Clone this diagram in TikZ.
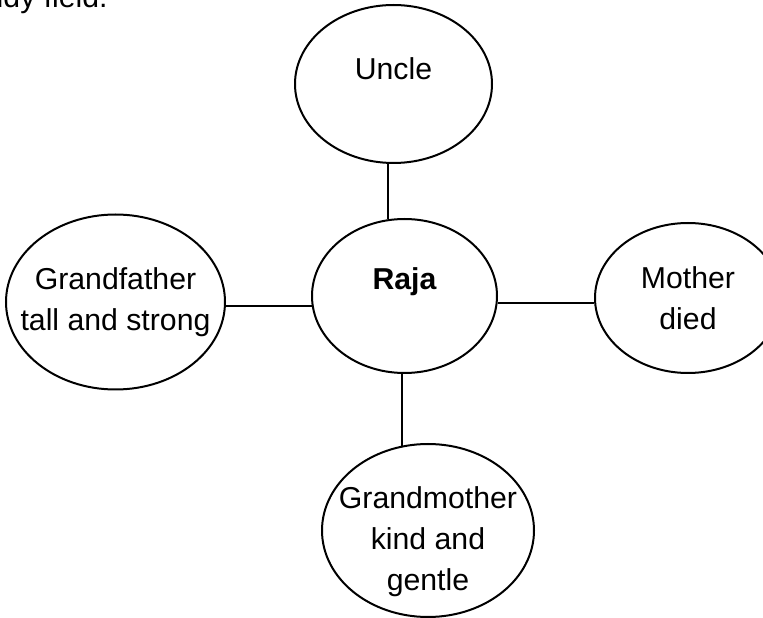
\documentclass[tikz,border=0pt]{standalone}
\usepackage{fontspec}
\setmainfont{Liberation Sans}
\usetikzlibrary{shapes.geometric, positioning}
\tikzset{
  bubble/.style={
    ellipse, draw=black, line width=0.04cm, inner sep=-0.6cm,
    align=center, font=\fontsize{17.2}{23.3}\selectfont
  },
  link/.style={line width=0.04cm, draw=black},
}

\begin{document}
\begin{tikzpicture}[node distance=1.2cm]
  \useasboundingbox (0,0) rectangle (15.26,-12.36);
  \node (intro) [anchor=base east, inner sep=0pt, font=\fontsize{17.2}{23.3}\selectfont] at (2.16,-0.16) {paddy field.};

  \node (raja)    [bubble, minimum width=3.7cm, minimum height=3.08cm, font=\fontsize{17.2}{23.3}\selectfont\bfseries, text depth=0.71cm] at (8.09,-5.92) {Raja};
  \node (uncle)   [bubble, minimum width=3.94cm, minimum height=3.16cm, text depth=0.6cm, above=1.08cm of raja, xshift=-0.22cm] {Uncle};
  \node (gfather) [bubble, minimum width=4.38cm, minimum height=3.5cm, left=1.7cm of raja, yshift=-0.12cm] {Grandfather\\tall and strong};
  \node (mother)  [bubble, minimum width=3.72cm, minimum height=3cm, right=1.92cm of raja, yshift=-0.04cm] {Mother\\died};
  \node (gmother) [bubble, minimum width=4.24cm, minimum height=3.46cm, text height=2.52cm, below=1.38cm of raja, xshift=0.47cm] {Grandmother\\kind and\\gentle};

  \draw [link] (raja.102) -- (raja.102 |- uncle.south);
  \draw [link] (raja.186) -- (raja.186 -| gfather.east);
  \draw [link] (raja.356) -- (raja.356 -| mother.west);
  \draw [link] (raja.268) -- (raja.268 |- gmother.107);
\end{tikzpicture}
\end{document}
